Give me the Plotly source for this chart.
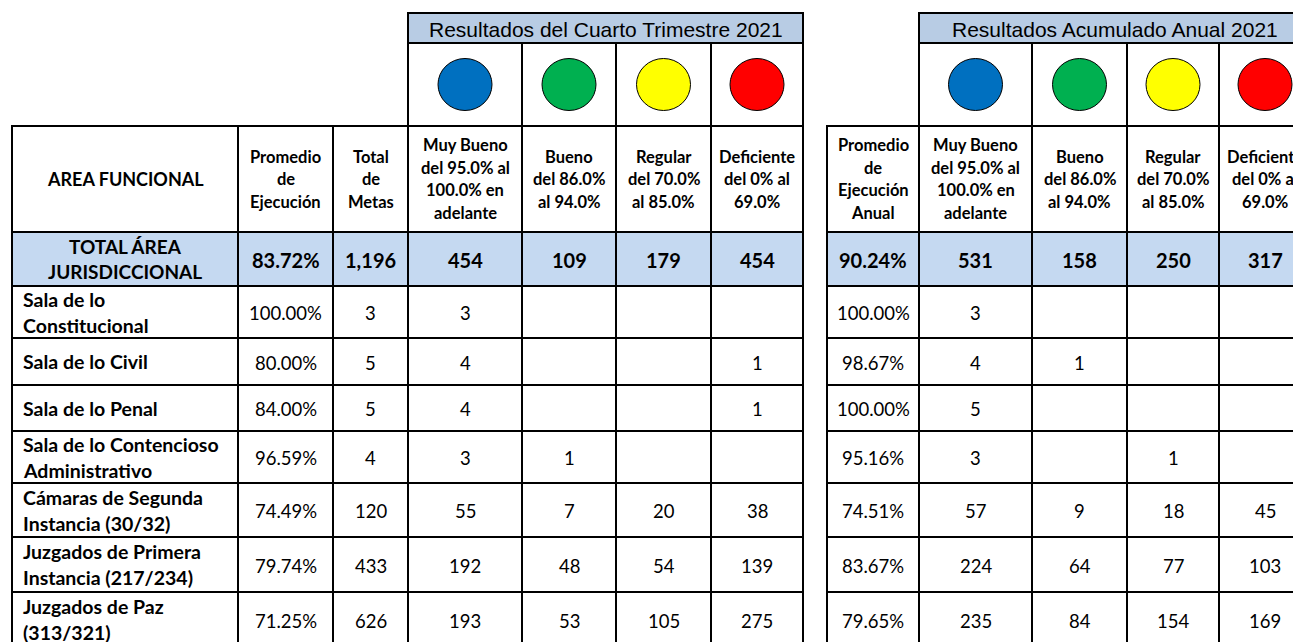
import plotly.graph_objects as go

# table content
area_labels = [
    "TOTAL ÁREA<br>JURISDICCIONAL",
    "Sala de lo<br>Constitucional",
    "Sala de lo Civil",
    "Sala de lo Penal",
    "Sala de lo Contencioso<br>Administrativo",
    "Cámaras de Segunda<br>Instancia (30/32)",
    "Juzgados de Primera<br>Instancia (217/234)",
    "Juzgados de Paz<br>(313/321)",
]
promedio_q4 = ["83.72%", "100.00%", "80.00%", "84.00%", "96.59%", "74.49%", "79.74%", "71.25%"]
total_metas = ["1,196", "3", "5", "5", "4", "120", "433", "626"]
muy_bueno_q4 = [454, 3, 4, 4, 3, 55, 192, 193]
bueno_q4 = [109, None, None, None, 1, 7, 48, 53]
regular_q4 = [179, None, None, None, None, 20, 54, 105]
deficiente_q4 = [454, None, 1, 1, None, 38, 139, 275]

promedio_anual = ["90.24%", "100.00%", "98.67%", "100.00%", "95.16%", "74.51%", "83.67%", "79.65%"]
muy_bueno_anual = [531, 3, 4, 5, 3, 57, 224, 235]
bueno_anual = [158, None, 1, None, None, 9, 64, 84]
regular_anual = [250, None, None, None, 1, 18, 77, 154]
deficiente_anual = [317, None, None, None, None, 45, 103, 169]

title_q4 = "Resultados del Cuarto Trimestre 2021"
title_anual = "Resultados Acumulado Anual 2021"
left_headers = [
    "AREA FUNCIONAL",
    "Promedio<br>de<br>Ejecución",
    "Total<br>de<br>Metas",
    "Muy Bueno<br>del 95.0% al<br>100.0% en<br>adelante",
    "Bueno<br>del 86.0%<br>al 94.0%",
    "Regular<br>del 70.0%<br>al 85.0%",
    "Deficiente<br>del 0% al<br>69.0%",
]
right_headers = [
    "Promedio<br>de<br>Ejecución<br>Anual",
    "Muy Bueno<br>del 95.0% al<br>100.0% en<br>adelante",
    "Bueno<br>del 86.0%<br>al 94.0%",
    "Regular<br>del 70.0%<br>al 85.0%",
    "Deficiente<br>del 0% al<br>69.0%",
]
level_colors = ["#0070C0", "#00B050", "#FFFF00", "#FF0000"]

# layout in pixels (page coordinates; the page body has an 8px margin)
W, H = 1301, 642
PAGE_OFFSET = 8
TITLE_TOP, TITLE_BOTTOM, CIRCLE_BOTTOM, HEADER_BOTTOM = 13, 43, 126, 232
ROW_EDGES = [232, 286, 338, 385, 431, 483, 537, 592, 647]
LEFT_COLS = [12, 238, 333, 408, 522, 616, 711, 803]
RIGHT_COLS = [827, 919, 1032, 1127, 1219, 1311]
TITLE_FILL = "#B8CCE4"
TOTAL_FILL = "#C5D9F1"
BODY_FONT = "Lato"
TITLE_FONT = "Liberation Sans"

shapes = []
annotations = []


def cell(x0, x1, y0, y1, fill="rgba(0,0,0,0)"):
    shapes.append(dict(type="rect", xref="x", yref="y", x0=x0, x1=x1, y0=y0, y1=y1,
                       fillcolor=fill, line=dict(color="black", width=2), layer="below"))


def text(x, y, s, size, bold=False, anchor="center", font=BODY_FONT, spacing=22.5):
    lines = s.split("<br>")
    top = y - spacing * (len(lines) - 1) / 2
    for k, line in enumerate(lines):
        annotations.append(dict(x=x, y=top + k * spacing, xref="x", yref="y",
                                text=f"<b>{line}</b>" if bold else line,
                                showarrow=False, xanchor=anchor, yanchor="middle",
                                font=dict(family=font, size=size, color="black")))


def fmt(v):
    return "" if v is None else str(v)


def build_block(cols, headers, columns, level_start, title, label_col):
    # title + circle rows over the level columns
    lv = cols[level_start:]
    cell(lv[0], lv[-1], TITLE_TOP, TITLE_BOTTOM, TITLE_FILL)
    text((lv[0] + lv[-1]) / 2, (TITLE_TOP + TITLE_BOTTOM) / 2 + 1, title, 21, font=TITLE_FONT)
    for i, color in enumerate(level_colors):
        cell(lv[i], lv[i + 1], TITLE_BOTTOM, CIRCLE_BOTTOM)
        cx = (lv[i] + lv[i + 1]) / 2
        cy = (TITLE_BOTTOM + CIRCLE_BOTTOM) / 2
        shapes.append(dict(type="circle", xref="x", yref="y", x0=cx - 27, x1=cx + 27,
                           y0=cy - 26, y1=cy + 26, fillcolor=color,
                           line=dict(color="black", width=1)))
    # header row
    for j, h in enumerate(headers):
        cell(cols[j], cols[j + 1], CIRCLE_BOTTOM, HEADER_BOTTOM)
        size = 18 if h == "AREA FUNCIONAL" else 16.5
        text((cols[j] + cols[j + 1]) / 2, (CIRCLE_BOTTOM + HEADER_BOTTOM) / 2, h, size, bold=True)
    # body rows
    for r in range(len(ROW_EDGES) - 1):
        y0, y1 = ROW_EDGES[r], ROW_EDGES[r + 1]
        total = r == 0
        for j, values in enumerate(columns):
            cell(cols[j], cols[j + 1], y0, y1, TOTAL_FILL if total else "white")
            ym = (y0 + y1) / 2
            if label_col and j == 0:
                if total:
                    text((cols[0] + cols[1]) / 2, ym, values[r], 19, bold=True, spacing=25)
                else:
                    text(cols[0] + 9, ym, values[r], 19.5, bold=True, anchor="left", spacing=26)
            else:
                text((cols[j] + cols[j + 1]) / 2, ym + 1, fmt(values[r]), 20 if total else 18.5, bold=total)


build_block(LEFT_COLS, left_headers,
            [area_labels, promedio_q4, total_metas, muy_bueno_q4, bueno_q4, regular_q4, deficiente_q4],
            3, title_q4, True)
build_block(RIGHT_COLS, right_headers,
            [promedio_anual, muy_bueno_anual, bueno_anual, regular_anual, deficiente_anual],
            1, title_anual, False)

fig = go.Figure()
fig.add_trace(go.Scatter(x=[0, W], y=[0, H], mode="markers", marker=dict(opacity=0),
                         hoverinfo="skip", showlegend=False))
fig.update_layout(
    width=W,
    height=H,
    margin=dict(l=0, r=0, t=0, b=0),
    paper_bgcolor="white",
    plot_bgcolor="white",
    shapes=shapes,
    annotations=annotations,
    xaxis=dict(range=[PAGE_OFFSET, W + PAGE_OFFSET], visible=False, fixedrange=True),
    yaxis=dict(range=[H + PAGE_OFFSET, PAGE_OFFSET], visible=False, fixedrange=True),
    showlegend=False,
)
fig.write_html("out.html")
